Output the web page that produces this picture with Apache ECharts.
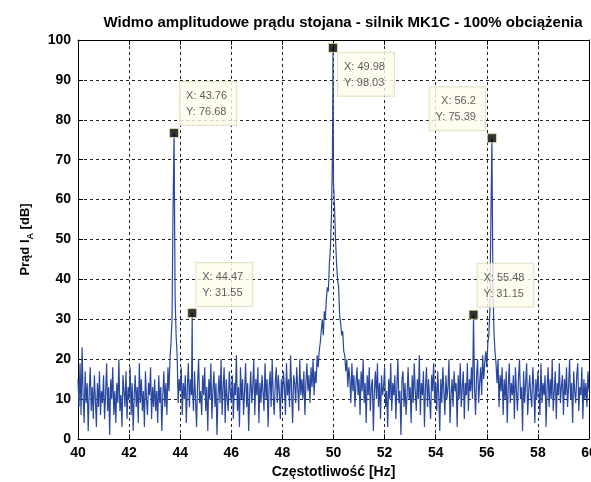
<!DOCTYPE html>
<html>
<head>
<meta charset="utf-8">
<script src="https://cdn.jsdelivr.net/npm/echarts@6/dist/echarts.min.js"></script>
<style>
html,body{margin:0;padding:0;background:#fff;}
#chart{width:591px;height:482px;}
</style>
</head>
<body>
<div id="chart"></div>
<script>
// ---- data ----
const titleText = 'Widmo amplitudowe prądu stojana - silnik MK1C - 100% obciążenia';
const xAxisName = 'Częstotliwość [Hz]';
const freqStart = 40;      // Hz, first spectral line
const freqStep = 0.04;     // Hz, spectral resolution
// amplitude [dB] of each spectral line, 40.00 ... 60.00 Hz (one row per 1 Hz)
const amplitude = [
  15, 8, 19, 6, 23, 11, 4, 17, 9, 14, 2, 12, 18, 7, 13, 5, 16, 10, 3, 14, 8, 17, 6, 12, 9,
  16, 5, 11, 19, 7, 13, 1, 15, 10, 18, 6, 12, 4, 14, 9, 20, 7, 11, 3, 16, 12, 8, 17, 5, 13,
  10, 18, 6, 14, 2, 11, 16, 8, 13, 4, 19, 9, 15, 7, 12, 3, 17, 10, 6, 14, 11, 18, 5, 13, 8,
  15, 7, 12, 4, 16, 9, 13, 2, 11, 17, 8, 14, 6, 18, 12, 20, 24, 30, 57, 76.68, 36, 26, 21, 9, 15,
  12, 18, 6, 14, 10, 16, 4, 13, 19, 8, 15, 11, 13, 7, 17, 10, 3, 14, 20, 9, 12, 6, 16, 11, 18,
  7, 13, 2, 15, 10, 19, 5, 12, 17, 8, 14, 1, 11, 16, 9, 20, 6, 13, 18, 4, 15, 10, 7, 17, 12,
  9, 16, 5, 14, 11, 21, 7, 13, 3, 18, 10, 15, 6, 12, 19, 8, 14, 2, 11, 17, 9, 13, 20, 6, 15,
  11, 18, 4, 14, 9, 16, 12, 7, 19, 10, 15, 3, 13, 17, 8, 20, 11, 6, 14, 18, 9, 16, 12, 5, 15,
  10, 17, 13, 6, 19, 11, 15, 8, 21, 12, 4, 16, 14, 9, 18, 13, 7, 20, 11, 15, 10, 17, 6, 14, 19,
  12, 16, 9, 18, 13, 20, 11, 17, 14, 21, 18, 22, 24, 27, 30, 26, 32, 30, 35, 38, 37, 44, 48, 56, 72,
  64, 58, 50, 44, 40, 38, 31, 29, 26, 27, 22, 21, 17, 20, 13, 18, 15, 9, 19, 12, 16, 8, 14, 18, 11,
  15, 6, 17, 12, 20, 9, 14, 4, 16, 11, 18, 7, 13, 15, 2, 12, 17, 10, 19, 8, 14, 5, 16, 11, 13,
  18, 8, 12, 3, 15, 10, 19, 7, 14, 11, 16, 5, 13, 20, 9, 12, 1, 15, 17, 8, 14, 6, 11, 18, 10,
  13, 4, 16, 9, 19, 12, 7, 15, 10, 21, 6, 14, 11, 17, 3, 13, 18, 8, 15, 10, 5, 16, 12, 19, 9,
  14, 7, 17, 11, 2, 15, 9, 18, 12, 6, 16, 10, 13, 20, 4, 11, 15, 8, 17, 12, 14, 3, 16, 10, 19,
  8, 13, 17, 5, 14, 11, 19, 7, 15, 12, 18, 10, 31.15, 13, 6, 16, 20, 9, 14, 18, 11, 21, 15, 19, 22,
  18, 24, 26, 32, 55, 75.39, 38, 27, 22, 19, 14, 20, 8, 16, 12, 18, 6, 15, 10, 17, 4, 13, 19, 9, 14,
  11, 16, 5, 18, 12, 7, 15, 20, 10, 13, 2, 17, 9, 14, 19, 6, 12, 16, 11, 8, 18, 13, 4, 15, 10,
  17, 12, 6, 19, 9, 14, 11, 16, 3, 13, 18, 8, 15, 10, 20, 7, 12, 17, 5, 14, 11, 19, 9, 13, 16,
  6, 15, 11, 18, 8, 13, 20, 10, 14, 4, 17, 12, 9, 16, 19, 7, 13, 11, 18, 5, 15, 10, 14, 8, 17,
  12
];
// data tips (peaks)
const tipX = [43.76, 44.47, 49.98, 55.48, 56.2];
const tipY = [76.68, 31.55, 98.03, 31.15, 75.39];

// ---- layout / style constants ----
const FONT = "'Liberation Sans', Arial, sans-serif";
const tipLabelPos = [[11, -46], [9, -45], [10, 10], [9, -46], [-2, -46]];
const tipLabelAlign = ['left', 'left', 'left', 'left', 'right'];

// ---- build series data ----
const lineData = amplitude.map((v, i) => [+(freqStart + i * freqStep).toFixed(2), v]);
tipX.forEach((x, k) => {
  if (!lineData.some(p => Math.abs(p[0] - x) < 1e-6)) lineData.push([x, tipY[k]]);
});
lineData.sort((a, b) => a[0] - b[0]);

const tipData = tipX.map((x, k) => ({
  value: [x, tipY[k]],
  label: {
    show: true,
    position: tipLabelPos[k],
    align: tipLabelAlign[k],
    verticalAlign: 'top',
    formatter: 'X: ' + x + '\nY: ' + tipY[k]
  }
}));

const chart = echarts.init(document.getElementById('chart'), null, {renderer: 'canvas'});
const axisCommon = {
  axisLine: {show: true, onZero: false, lineStyle: {color: '#000', width: 1}},
  axisTick: {show: true, inside: true, length: 5, lineStyle: {color: '#000'}},
};
chart.setOption({
  animation: false,
  backgroundColor: '#fff',
  title: {
    text: titleText,
    left: 338, top: 10, textAlign: 'center',
    textStyle: {fontFamily: FONT, fontWeight: 'bold', fontSize: 15, color: '#000'}
  },
  grid: {left: 78, right: 2, top: 40, bottom: 43, containLabel: false, outerBoundsMode: 'none'},
  xAxis: [
    Object.assign({}, axisCommon, {
      type: 'value', min: 40, max: 60, interval: 2, position: 'bottom',
      axisLabel: {color: '#000', fontFamily: FONT, fontWeight: 'bold', fontSize: 14, margin: 7},
      splitLine: {show: true, lineStyle: {type: [3, 3], color: '#222', width: 1}},
      name: xAxisName, nameLocation: 'middle', nameGap: 25,
      nameTextStyle: {color: '#000', fontFamily: FONT, fontWeight: 'bold', fontSize: 14}
    }),
    Object.assign({}, axisCommon, {
      type: 'value', min: 40, max: 60, interval: 2, position: 'top',
      axisLabel: {show: false}, splitLine: {show: false}
    })
  ],
  yAxis: [
    Object.assign({}, axisCommon, {
      type: 'value', min: 0, max: 100, interval: 10, position: 'left',
      axisLabel: {color: '#000', fontFamily: FONT, fontWeight: 'bold', fontSize: 14, margin: 7},
      splitLine: {show: true, lineStyle: {type: [3, 3], color: '#222', width: 1}},
      name: 'Prąd I{sub|A} [dB]', nameLocation: 'middle', nameGap: 53, nameRotate: 90,
      nameTextStyle: {
        color: '#000', fontFamily: FONT, fontWeight: 'bold', fontSize: 13, lineHeight: 20, verticalAlign: 'middle',
        rich: {sub: {fontFamily: FONT, fontWeight: 'bold', fontSize: 9, lineHeight: 9, verticalAlign: 'bottom', color: '#000'}}
      }
    }),
    Object.assign({}, axisCommon, {
      type: 'value', min: 0, max: 100, interval: 10, position: 'right',
      axisLabel: {show: false}, splitLine: {show: false}
    })
  ],
  series: [
    {
      type: 'line', data: lineData, showSymbol: false, symbol: 'none',
      lineStyle: {color: '#2a47a0', width: 1.2}, z: 2, silent: true
    },
    {
      type: 'scatter', data: tipData, symbol: 'rect', symbolSize: 9,
      itemStyle: {color: '#000', borderColor: '#efe6b0', borderWidth: 1},
      label: {
        fontFamily: FONT, fontSize: 11, lineHeight: 16, color: '#333',
        backgroundColor: '#fffdec', borderColor: '#ddd9b8', borderWidth: 1,
        padding: [6, 9, 5, 6]
      },
      z: 5, silent: true
    }
  ]
});
</script>
</body>
</html>
